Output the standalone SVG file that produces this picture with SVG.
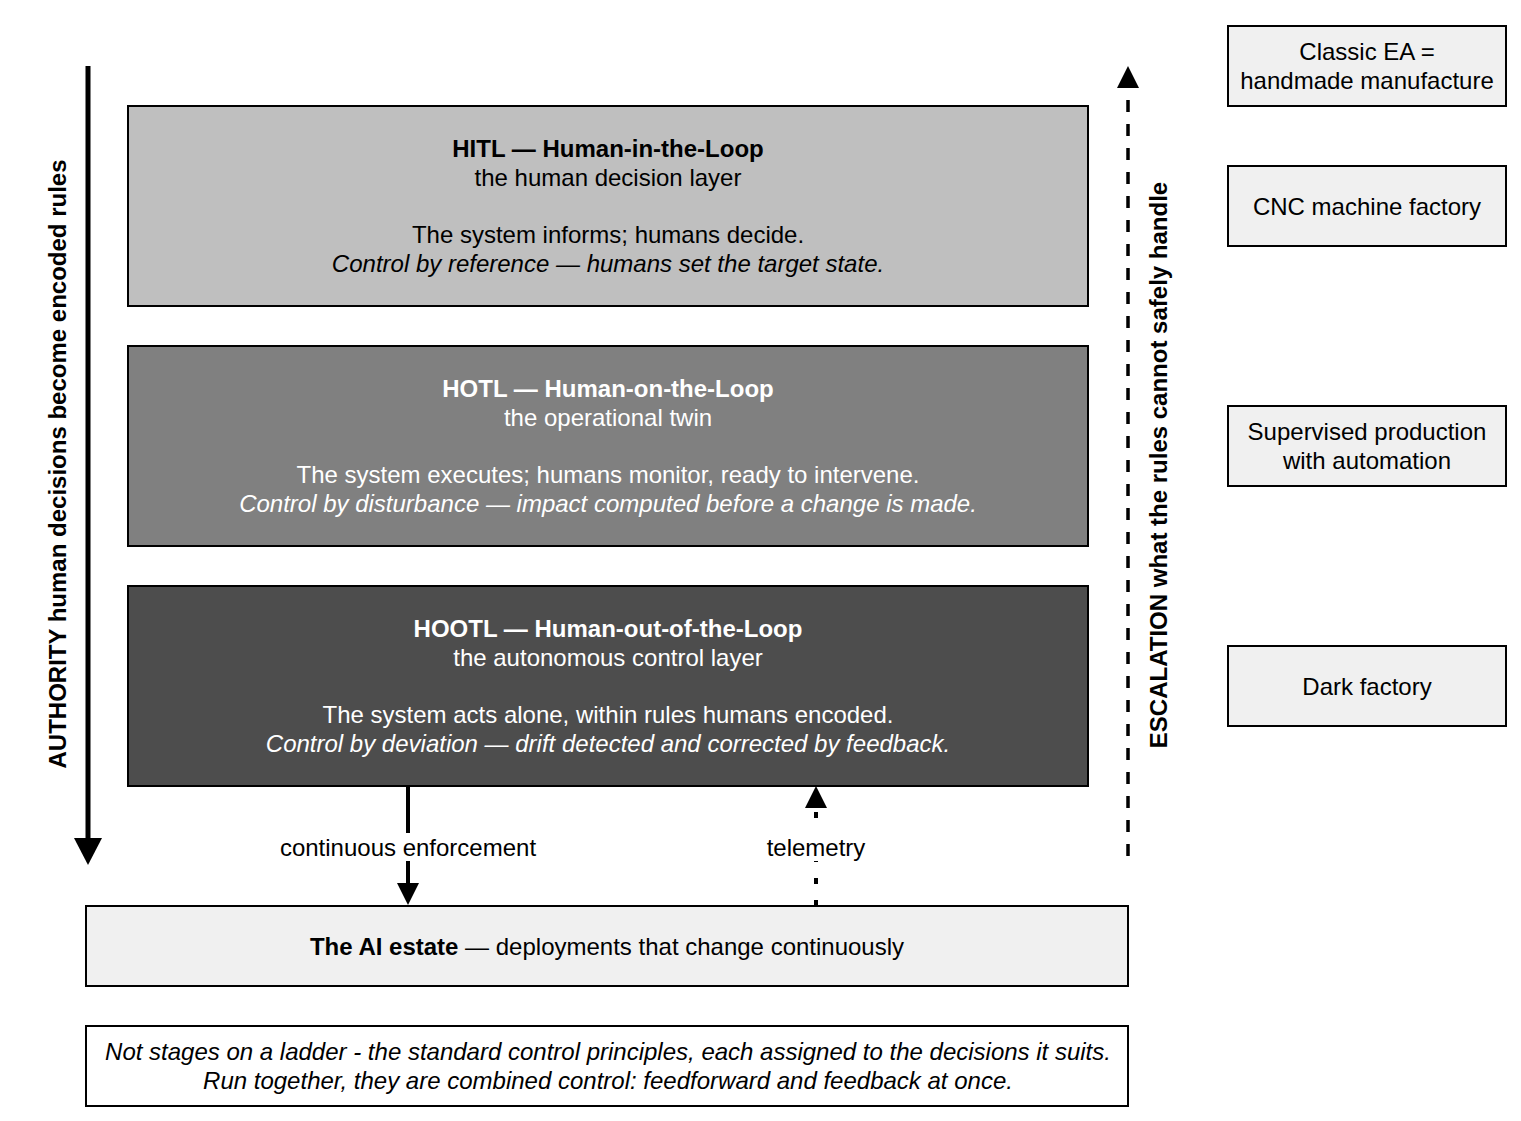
<svg xmlns="http://www.w3.org/2000/svg" width="1521" height="1121" viewBox="0 0 1521 1121">
<style>
text{font-family:"Liberation Sans",Arial,sans-serif;font-size:24px;text-anchor:middle;fill:#000}
.b{font-weight:bold}
.i{font-style:italic}
.w{fill:#fff}
.box{stroke:#000;stroke-width:2}
.side{fill:#f0f0f0;stroke:#000;stroke-width:2}
.ln{stroke:#000;fill:none}
</style>
<defs>
<marker id="headL" markerUnits="userSpaceOnUse" markerWidth="27" markerHeight="28" refX="0" refY="14" orient="auto" overflow="visible"><path d="M0,0 L27,14 L0,28 z" fill="#000"/></marker>
<marker id="headS" markerUnits="userSpaceOnUse" markerWidth="22" markerHeight="22" refX="0" refY="11" orient="auto" overflow="visible"><path d="M0,0 L22,11 L0,22 z" fill="#000"/></marker>
</defs>
<rect width="1521" height="1121" fill="#fff"/>

<g id="connectors">
<line class="ln" x1="88" y1="66" x2="88" y2="838" stroke-width="5" marker-end="url(#headL)"/>
<line class="ln" x1="1128" y1="856" x2="1128" y2="88" stroke-width="3.5" stroke-dasharray="12 12" marker-end="url(#headS)"/>
<line class="ln" x1="408" y1="786" x2="408" y2="883" stroke-width="4" marker-end="url(#headS)"/>
<line class="ln" x1="816" y1="906" x2="816" y2="808" stroke-width="4" stroke-dasharray="6 16" marker-end="url(#headS)"/>
<rect x="278" y="833" width="262" height="28" fill="#fff"/>
<text x="408" y="856">continuous enforcement</text>
<rect x="765" y="833" width="104" height="28" fill="#fff"/>
<text x="816" y="856">telemetry</text>
</g>

<g id="authority">
<text class="b" transform="translate(66,464) rotate(-90)">AUTHORITY human decisions become encoded rules</text>
</g>
<g id="escalation">
<text class="b" transform="translate(1167,465) rotate(-90)">ESCALATION what the rules cannot safely handle</text>
</g>

<g id="hitl">
<rect class="box" x="128" y="106" width="960" height="200" fill="#bfbfbf"/>
<text class="b" x="608" y="157">HITL — Human-in-the-Loop</text>
<text x="608" y="186">the human decision layer</text>
<text x="608" y="243">The system informs; humans decide.</text>
<text class="i" x="608" y="272">Control by reference — humans set the target state.</text>
</g>

<g id="hotl">
<rect class="box" x="128" y="346" width="960" height="200" fill="#808080"/>
<text class="b w" x="608" y="397">HOTL — Human-on-the-Loop</text>
<text class="w" x="608" y="426">the operational twin</text>
<text class="w" x="608" y="483">The system executes; humans monitor, ready to intervene.</text>
<text class="i w" x="608" y="512">Control by disturbance — impact computed before a change is made.</text>
</g>

<g id="hootl">
<rect class="box" x="128" y="586" width="960" height="200" fill="#4d4d4d"/>
<text class="b w" x="608" y="637">HOOTL — Human-out-of-the-Loop</text>
<text class="w" x="608" y="666">the autonomous control layer</text>
<text class="w" x="608" y="723">The system acts alone, within rules humans encoded.</text>
<text class="i w" x="608" y="752">Control by deviation — drift detected and corrected by feedback.</text>
</g>

<g id="estate">
<rect class="side" x="86" y="906" width="1042" height="80"/>
<text x="607" y="955"><tspan class="b">The AI estate</tspan> — deployments that change continuously</text>
</g>

<g id="note">
<rect class="box" x="86" y="1026" width="1042" height="80" fill="#fff"/>
<text class="i" x="608" y="1060">Not stages on a ladder - the standard control principles, each assigned to the decisions it suits.</text>
<text class="i" x="608" y="1089">Run together, they are combined control: feedforward and feedback at once.</text>
</g>

<g id="classic">
<rect class="side" x="1228" y="26" width="278" height="80"/>
<text x="1367" y="60">Classic EA =</text>
<text x="1367" y="89">handmade manufacture</text>
</g>
<g id="cnc">
<rect class="side" x="1228" y="166" width="278" height="80"/>
<text x="1367" y="215">CNC machine factory</text>
</g>
<g id="supervised">
<rect class="side" x="1228" y="406" width="278" height="80"/>
<text x="1367" y="440">Supervised production</text>
<text x="1367" y="469">with automation</text>
</g>
<g id="dark">
<rect class="side" x="1228" y="646" width="278" height="80"/>
<text x="1367" y="695">Dark factory</text>
</g>
</svg>
